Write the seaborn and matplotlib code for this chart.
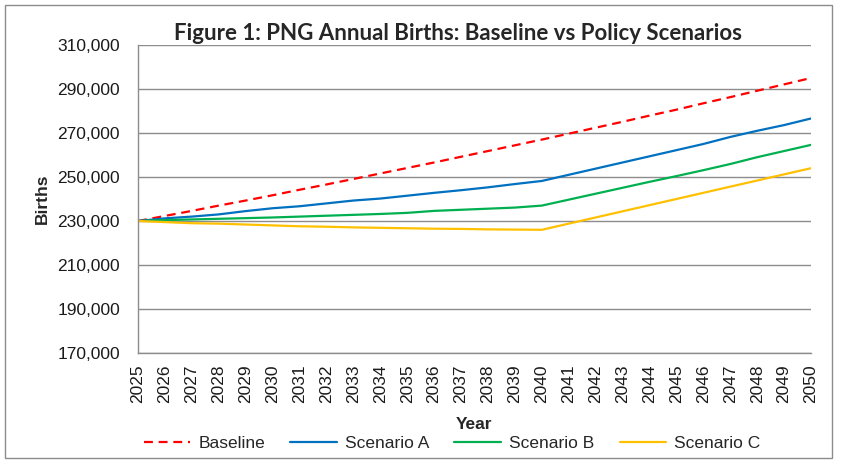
import numpy as np
import matplotlib
matplotlib.use('Agg')
import matplotlib.pyplot as plt
import matplotlib.ticker as mticker
from matplotlib.patches import Rectangle
import seaborn as sns
import pandas as pd

# Data
years = list(range(2025, 2051))
baseline = [230000, 232300, 234600, 237000, 239300, 241700, 244200, 246600, 249100,
            251600, 254100, 256600, 259200, 261800, 264400, 267000, 269700, 272400,
            275100, 277900, 280600, 283500, 286300, 289200, 292100, 295000]
scenario_a = [230000, 231200, 232000, 233000, 234500, 235800, 236700, 238000, 239300,
              240200, 241500, 242800, 244000, 245300, 246800, 248200, 251000, 253800,
              256600, 259400, 262200, 265000, 268200, 271000, 273600, 276600]
scenario_b = [230000, 230400, 230700, 231000, 231300, 231600, 232000, 232400, 232800,
              233200, 233700, 234600, 235100, 235600, 236100, 237000, 239700, 242400,
              245100, 247800, 250400, 253100, 255900, 259000, 261800, 264600]
scenario_c = [230000, 229500, 229000, 228800, 228400, 228000, 227600, 227400, 227100,
              226900, 226700, 226500, 226400, 226200, 226100, 226000, 228800, 231600,
              234400, 237200, 240000, 242800, 245600, 248400, 251200, 254000]

series = {'Baseline': baseline, 'Scenario A': scenario_a,
          'Scenario B': scenario_b, 'Scenario C': scenario_c}
colors = {'Baseline': '#FF0000', 'Scenario A': '#0070C0',
          'Scenario B': '#00B050', 'Scenario C': '#FFC000'}

df = pd.DataFrame({'Year': years, **series})
df_long = df.melt(id_vars='Year', var_name='Series', value_name='Births')

sns.set_style('white')
plt.rcParams['font.family'] = ['Liberation Sans', 'DejaVu Sans']

fig = plt.figure(figsize=(8.43, 4.69), dpi=100)
ax = fig.add_axes([138 / 843, 1 - 353 / 469, (811 - 138) / 843, (353 - 45) / 469])

for name in series:
    sub = df_long[df_long['Series'] == name]
    sns.lineplot(data=sub, x='Year', y='Births', ax=ax, color=colors[name],
                 linewidth=1.6, label=name,
                 linestyle='--' if name == 'Baseline' else '-')
ax.lines[0].set_dashes((4, 2.6))

ax.set_xlim(2025, 2050)
ax.set_ylim(170000, 310000)
ax.set_xticks(years)
ax.set_xticklabels([str(y) for y in years], rotation=90)
ax.set_yticks(np.arange(170000, 310001, 20000))
ax.yaxis.set_major_formatter(mticker.FuncFormatter(lambda v, p: f'{int(v):,}'))
ax.tick_params(axis='both', labelsize=12.5, colors='#8c8c8c', labelcolor='#1a1a1a',
               length=5, width=1, direction='out', pad=3)
ax.tick_params(axis='y', pad=8)

ax.grid(axis='y', color='#8c8c8c', linewidth=1)
ax.set_axisbelow(True)
sns.despine(ax=ax, top=True, right=True)
for side in ['left', 'bottom']:
    ax.spines[side].set_color('#8c8c8c')
    ax.spines[side].set_linewidth(1)

ax.set_xlabel('Year', fontsize=12.5, fontweight='bold', labelpad=10)
ax.set_ylabel('Births', fontsize=12.5, fontweight='bold', labelpad=5)

fig.text(0.5437, 1 - 34 / 469, 'Figure 1: PNG Annual Births: Baseline vs Policy Scenarios',
         ha='center', va='center', fontsize=16, fontweight='bold',
         family=['Lato', 'DejaVu Sans'])

handles, labels = ax.get_legend_handles_labels()
ax.legend(handles, labels, loc='center', bbox_to_anchor=(452 / 843, 1 - 443 / 469),
          bbox_transform=fig.transFigure, ncol=4, frameon=False, fontsize=12.5,
          handlelength=2.7, columnspacing=1.45, handletextpad=0.45)

fig.patches.append(Rectangle((5 / 843, 11 / 469), 827 / 843, 453 / 469,
                             transform=fig.transFigure, fill=False,
                             edgecolor='#8c8c8c', linewidth=1))

fig.savefig('out.png', dpi=100)
